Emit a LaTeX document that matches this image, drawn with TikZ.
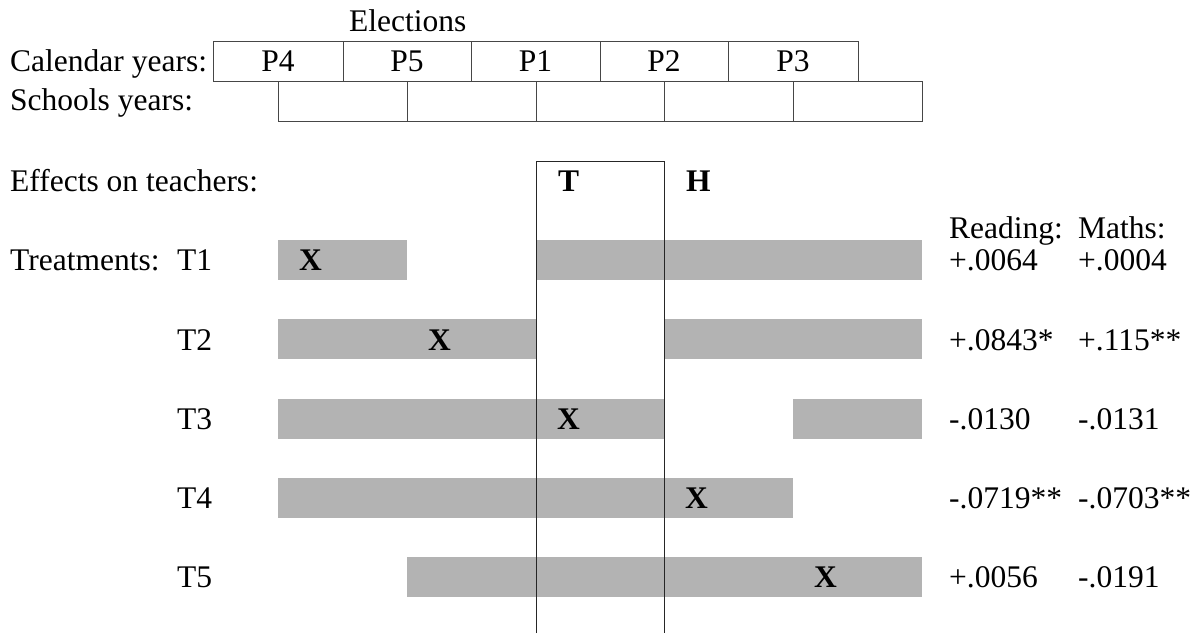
\documentclass[tikz,border=0pt]{standalone}
\usepackage{fontspec}
\setmainfont{Liberation Serif}
\definecolor{bargray}{RGB}{179,179,179}
\definecolor{linegray}{RGB}{70,70,70}
\begin{document}
\begin{tikzpicture}[x=1pt,y=-1pt,
  txt/.style={font=\fontsize{31.5}{38}\selectfont, inner sep=0pt, anchor=base west},
  btxt/.style={txt, font=\fontsize{31.5}{38}\selectfont\bfseries},
  cell/.style={draw=linegray, line width=1pt, inner sep=0pt, minimum height=40pt, font=\fontsize{31.5}{38}\selectfont},
  bar/.style={fill=bargray, inner sep=0pt, minimum height=40pt},
  vline/.style={draw=black!85, line width=1pt}
]
\useasboundingbox (0,0) rectangle (1203,633);

% header texts
\node[txt] (elect) at (349,31.7) {Elections};
\node[txt] (cal) at (10,71.7) {Calendar years:};
\node[txt] (sch) at (10,110) {Schools years:};
\node[txt] (eff) at (10,191.7) {Effects on teachers:};
\node[txt] (treat) at (10,270.7) {Treatments:};

% calendar years
\node[cell, minimum width=130pt] (p4) at (278,61) {P4};
\node[cell, minimum width=128pt] (p5) at (407,61) {P5};
\node[cell, minimum width=129pt] (p1) at (535.5,61) {P1};
\node[cell, minimum width=128pt] (p2) at (664,61) {P2};
\node[cell, minimum width=130pt] (p3) at (793,61) {P3};

% school years
\node[cell, minimum width=129pt] (s1) at (342.5,101) {};
\node[cell, minimum width=129pt] (s2) at (471.5,101) {};
\node[cell, minimum width=128pt] (s3) at (600,101) {};
\node[cell, minimum width=129pt] (s4) at (728.5,101) {};
\node[cell, minimum width=129pt] (s5) at (857.5,101) {};

% treatment labels
\node[txt] (t1) at (177,270.7) {T1};
\node[txt] (t2) at (177,350) {T2};
\node[txt] (t3) at (177,429.3) {T3};
\node[txt] (t4) at (177,508.6) {T4};
\node[txt] (t5) at (177,587.9) {T5};

% bars
\node[bar, minimum width=129pt] (b1a) at (342.5,260) {};
\node[bar, minimum width=386pt] (b1b) at (729,260) {};
\node[bar, minimum width=258pt] (b2a) at (407,339.3) {};
\node[bar, minimum width=258pt] (b2b) at (793,339.3) {};
\node[bar, minimum width=386pt] (b3a) at (471,418.6) {};
\node[bar, minimum width=129pt] (b3b) at (857.5,418.6) {};
\node[bar, minimum width=515pt] (b4a) at (535.5,497.9) {};
\node[bar, minimum width=515pt] (b5a) at (664.5,577.2) {};

% X marks
\node[btxt] (x1) at (299,270.7) {X};
\node[btxt] (x2) at (428,350) {X};
\node[btxt] (x3) at (557,429.3) {X};
\node[btxt] (x4) at (685,508.6) {X};
\node[btxt] (x5) at (814,587.9) {X};

% T / H window
\coordinate (tlb) at (536,633);
\coordinate (tlt) at (536,161);
\coordinate (trt) at (664,161);
\coordinate (trb) at (664,633);
\draw[vline] (tlb) -- (tlt) -- (trt) -- (trb);
\node[btxt] (tT) at (558,191.7) {T};
\node[btxt] (tH) at (686,191.7) {H};

% results
\node[txt] (read) at (949,238) {Reading:};
\node[txt] (math) at (1078,238) {Maths:};
\node[txt] (r1) at (949,270.7) {+.0064};
\node[txt] (m1) at (1078,270.7) {+.0004};
\node[txt] (r2) at (949,350) {+.0843*};
\node[txt] (m2) at (1078,350) {+.115**};
\node[txt] (r3) at (949,429.3) {-.0130};
\node[txt] (m3) at (1078,429.3) {-.0131};
\node[txt] (r4) at (949,508.6) {-.0719**};
\node[txt] (m4) at (1078,508.6) {-.0703**};
\node[txt] (r5) at (949,587.9) {+.0056};
\node[txt] (m5) at (1078,587.9) {-.0191};
\end{tikzpicture}
\end{document}
